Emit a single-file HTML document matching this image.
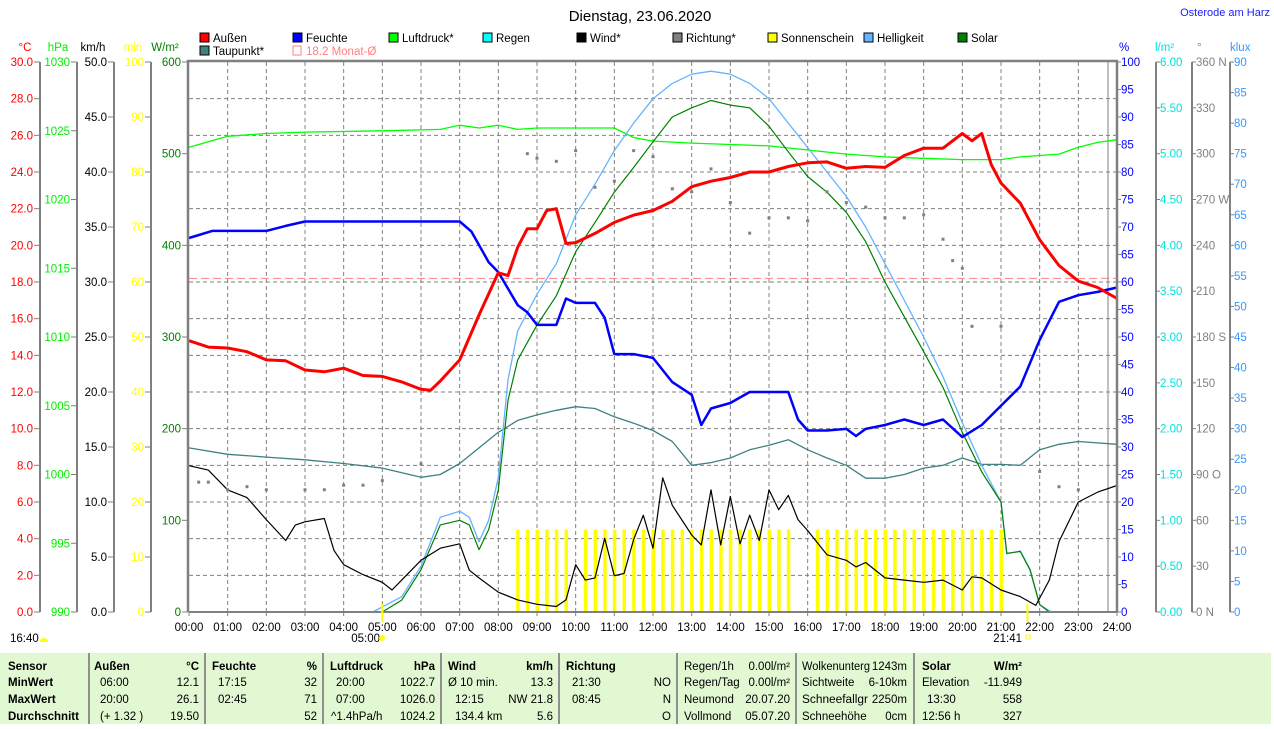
<!DOCTYPE html>
<html><head><meta charset="utf-8">
<style>
body{margin:0;background:#fff;width:1274px;height:724px;overflow:hidden;font-family:"Liberation Sans",Arial,sans-serif}
svg text{font-family:"Liberation Sans",Arial,sans-serif;font-size:11.5px}
</style></head>
<body>
<svg id="c" width="1274" height="724" viewBox="0 0 1274 724" xmlns="http://www.w3.org/2000/svg"></svg>
<script>
// ---- data ----
const tempT=[0,0.5,1,1.5,2,2.5,3,3.5,4,4.5,5,5.5,6,6.25,6.5,7,7.5,8,8.25,8.5,8.75,9,9.25,9.5,9.75,10,10.5,11,11.5,12,12.5,13,13.5,14,14.5,15,15.5,16,16.5,17,17.5,18,18.5,19,19.5,20,20.25,20.5,20.75,21,21.5,22,22.5,23,23.5,24];
const tempV=[14.8,14.45,14.4,14.2,13.75,13.7,13.2,13.1,13.3,12.9,12.85,12.55,12.15,12.1,12.6,13.75,16.2,18.5,18.35,19.9,20.9,20.9,21.9,22.0,20.1,20.15,20.65,21.25,21.65,21.9,22.4,23.2,23.5,23.7,24.0,24.0,24.3,24.5,24.55,24.2,24.3,24.25,24.9,25.3,25.3,26.1,25.7,26.1,24.4,23.4,22.3,20.3,18.9,18.05,17.7,17.1];
const humT=[0,0.6,2,2.5,3,7,7.3,7.75,8,8.5,8.75,9,9.5,9.75,10,10.5,10.75,11,11.5,12,12.5,13,13.25,13.5,14,14.5,15,15.5,15.75,16,16.5,17,17.25,17.5,18,18.5,19,19.5,20,20.5,21,21.5,22,22.5,23,23.5,24];
const humV=[68,69.3,69.3,70.2,71,71,69.2,63.6,61.8,55.8,54.5,52.2,52.2,57,56.2,56.2,53.5,46.9,46.9,46.2,41.8,39.5,34,37,38,40,40,40,35,33,33,33.3,32,33.3,34,35,34,35,31.8,34,37.5,41,49.5,56.4,57.6,58.2,59];
const presT=[0,1,2,3,5,6.5,7,7.5,8,8.5,9,10,11,11.5,12,13,14,15,16,17,18,19,20,21,21.5,22.5,23,23.5,24];
const presV=[1023.8,1024.6,1024.8,1024.9,1025.0,1025.1,1025.4,1025.2,1025.4,1025.1,1025.2,1025.2,1025.2,1024.5,1024.25,1024.1,1024.0,1023.9,1023.6,1023.3,1023.1,1023.0,1022.9,1022.9,1023.1,1023.3,1023.8,1024.15,1024.35];
const dewT=[0,1,2,3,4,5,6,6.5,7,7.5,8,8.5,9,9.5,10,10.5,11,11.5,12,12.5,13,13.5,14,14.5,15,15.5,16,16.5,17,17.5,18,18.5,19,19.5,20,20.5,21,21.5,22,22.5,23,24];
const dewV=[8.95,8.6,8.45,8.3,8.1,7.85,7.35,7.5,8.1,8.95,9.8,10.45,10.75,11.0,11.2,11.1,10.65,10.3,9.9,9.3,8.0,8.15,8.4,8.85,9.1,9.4,8.85,8.4,8.0,7.3,7.3,7.5,7.85,8.0,8.4,8.05,8.05,8.0,8.85,9.15,9.3,9.15];
const windT=[0,0.5,1,1.5,2,2.5,2.75,3,3.5,3.75,4,4.5,5,5.25,5.5,6,6.5,7,7.25,7.5,8,8.5,9,9.5,9.75,10,10.25,10.5,10.75,11,11.25,11.5,11.75,12,12.25,12.5,13,13.25,13.5,13.75,14,14.25,14.5,14.75,15,15.25,15.5,15.75,16,16.5,17,17.25,17.5,18,18.5,19,19.5,20,20.25,20.5,21,21.5,21.9,22.25,22.5,23,23.5,24];
const windV=[13.3,12.9,11.1,10.4,8.4,6.5,7.9,8.2,8.5,5.6,4.3,3.4,2.7,2.0,2.9,4.7,5.8,6.2,3.8,3.1,1.8,1.1,0.7,0.5,1.1,4.3,2.9,3.1,6.7,3.3,3.5,6.6,8.8,5.8,12.2,9.7,7.0,6.1,11.1,6.1,10.5,6.2,8.8,6.5,11.1,9.3,10.6,8.4,7.4,5.2,4.7,4.1,4.5,3.1,2.9,2.7,2.9,2.0,3.2,3.1,2.0,1.4,0.6,2.9,6.4,10.0,10.9,11.5];
const dirT=[0.25,0.5,1,1.5,2,3,3.5,4,4.5,5,6,8.75,9,9.5,10,10.5,11,11.5,12,12.5,13,13.5,14,14.5,15,15.5,16,16.5,17,17.5,18,18.5,19,19.5,19.75,20,20.25,21,22,22.5,23];
const dirV=[85,85,80,82,80,80,80,83,83,86,97,300,297,295,302,278,282,302,298,277,275,290,268,248,258,258,256,275,268,265,258,258,260,244,230,225,187,187,92,82,80];
const solT=[5,5.5,6,6.5,7,7.25,7.5,7.75,8,8.25,8.5,9,9.5,10,10.5,11,11.5,12,12.5,13,13.5,14,14.5,15,15.5,16,16.5,17,17.5,18,18.5,19,19.5,20,20.5,21,21.15,21.5,21.75,22,22.25];
const solV=[0,13,46,95,100,95,68,90,133,231,275,313,345,393,425,458,485,513,540,550,558,553,550,530,502,475,458,436,404,360,322,284,245,196,153,120,64,66,46,8,0];
const hellT=[4.75,5.5,6,6.5,7,7.25,7.5,7.75,8,8.25,8.5,9,9.5,10,10.5,11,11.5,12,12.5,13,13.5,14,14.5,15,15.5,16,16.5,17,17.5,18,18.5,19,19.5,20,20.5,21,21.15,21.5,21.75,22,22.3];
const hellV=[0,2.5,7.5,15.5,16.5,15.5,11.5,15,22,38,46,52,57,65,70,75.5,80,84,86.5,88,88.5,88,86.5,84,80,76,72,68,63,57,51,45,38.5,31,24,18,9.5,10,7,1.2,0];
const sunT=[8.5,8.75,9,9.25,9.5,9.75,10.25,10.5,10.75,11,11.25,11.5,11.75,12,12.25,12.5,12.75,13,13.25,13.5,13.75,14,14.25,14.5,14.75,15,15.25,15.5,16.25,16.5,16.75,17,17.25,17.5,17.75,18,18.25,18.5,18.75,19,19.25,19.5,19.75,20,20.25,20.5,20.75,21];
const sunV=sunT.map(()=>15);
const leftAxes=[
 {unit:"°C",color:"#ff0000",x:40,min:0,max:30,step:2,dec:1,ux:25},
 {unit:"hPa",color:"#00ee00",x:77,min:990,max:1030,step:5,dec:0,ux:58},
 {unit:"km/h",color:"#000000",x:114,min:0,max:50,step:5,dec:1,ux:93},
 {unit:"min",color:"#ffff00",x:151,min:0,max:100,step:10,dec:0,ux:133},
 {unit:"W/m²",color:"#008000",x:188,min:0,max:600,step:100,dec:0,ux:165}];
const dirLabels={360:"360 N",270:"270 W",180:"180 S",90:"90 O",0:"0 N"};

// ---- helpers ----
const NS="http://www.w3.org/2000/svg", svg=document.getElementById('c');
function el(tag,attrs,parent){const e=document.createElementNS(NS,tag);for(const k in attrs)e.setAttribute(k,attrs[k]);(parent||svg).appendChild(e);return e;}
function txt(x,y,s,attrs){const e=el('text',Object.assign({x:x,y:y},attrs||{}));e.textContent=s;return e;}
const X0=189,X1=1117,Y0=62,Y1=612;
const xT=t=>X0+(X1-X0)*t/24;
const yS=(v,min,max)=>Y1-(v-min)/(max-min)*(Y1-Y0);

// title
let t=txt(640,21,"Dienstag, 23.06.2020",{"text-anchor":"middle",style:"font-size:15px"});

t=txt(1270,16,"Osterode am Harz",{"text-anchor":"end",fill:"#2020ff",style:"font-size:11px"});


// grid
const grid=el('g',{stroke:"#808080","stroke-dasharray":"4,3","stroke-width":1});

for(let h=1;h<24;h++)el('line',{x1:xT(h),x2:xT(h),y1:Y0,y2:Y1},grid);
for(let v=2;v<30;v+=2)el('line',{x1:X0,x2:X1,y1:yS(v,0,30),y2:yS(v,0,30)},grid);
let ml=el('line',{x1:X0,x2:X1,y1:yS(18.2,0,30),y2:yS(18.2,0,30),stroke:"#ff8080","stroke-dasharray":"8,4"});

el('line',{x1:1108,x2:1108,y1:Y0,y2:Y1,stroke:"#808080"});

// left axes
leftAxes.forEach(a=>{
 const g=el('g',{});
 
 
 if(a.x!==188)el('line',{x1:a.x,x2:a.x,y1:Y0,y2:Y1,stroke:"#808080","stroke-width":2},g);
 g.appendChild(txt(a.ux,51,a.unit,{fill:a.color,"text-anchor":"middle"}));
 for(let v=a.min;v<=a.max+1e-9;v+=a.step){
  const y=yS(v,a.min,a.max);
  el('line',{x1:a.x-6,x2:a.x,y1:y,y2:y,stroke:"#808080"},g);
  g.appendChild(txt(a.x-7,y+4,v.toFixed(a.dec),{fill:a.color,"text-anchor":"end"}));
 }
});
// right axes
function rightAxis(name,unit,color,x,min,max,step,fmt,ux,line){
 const g=el('g',{});
 
 if(line)el('line',{x1:x,x2:x,y1:Y0,y2:Y1,stroke:"#808080","stroke-width":2},g);
 g.appendChild(txt(ux,51,unit,{fill:color}));
 for(let v=min;v<=max+1e-9;v+=step){const y=yS(v,min,max);
  el('line',{x1:x,x2:x+4,y1:y,y2:y,stroke:"#808080"},g);
  g.appendChild(txt(x+4,y+4,fmt(v),{fill:color}));}
}
rightAxis('y-axis-humidity','%','#0000ff',1117,0,100,5,v=>String(v),1119,false);
rightAxis('y-axis-rain','l/m²','#00e0e0',1156,0,6,0.5,v=>v.toFixed(2),1155,true);
rightAxis('y-axis-direction','°','#808080',1192,0,360,30,v=>dirLabels[v]||String(v),1197,true);
rightAxis('y-axis-brightness','klux','#3399ff',1230,0,90,5,v=>String(v),1230,true);

// x axis
const xg=el('g',{});
for(let h=0;h<=24;h++){const x=xT(h);el('line',{x1:x,x2:x,y1:Y1,y2:Y1+4,stroke:"#808080"},xg);
 xg.appendChild(txt(x,631,(h<10?"0":"")+h+":00",{"text-anchor":"middle"}));}

// sunshine bars
const sg=el('g',{fill:"#ffff00"});
sunT.forEach((tt,i)=>{const y=yS(sunV[i],0,100);const r=el('rect',{x:xT(tt)-1.5,y:y,width:3.5,height:Y1-y},sg);
 });

function line(T,V,min,max,color,w,name){const p=T.map((tt,i)=>xT(tt).toFixed(1)+","+yS(V[i],min,max).toFixed(1)).join(" ");
 const e=el('polyline',{points:p,fill:"none",stroke:color,"stroke-width":w,"stroke-linejoin":"round"});
 }
line(presT,presV,990,1030,"#00ff00",1.3,'pressure-line');
line(dewT,dewV,0,30,"#408080",1.3,'dewpoint-line');
line(hellT,hellV,0,90,"#66b3ff",1.3,'brightness-line');
line(solT,solV,0,600,"#008000",1.2,'solar-line');
line(windT,windV,0,50,"#000000",1.2,'wind-line');
const dg=el('g',{fill:"#808080"});
dirT.forEach((tt,i)=>{const d=el('rect',{x:xT(tt)-1.5,y:yS(dirV[i],0,360)-1.5,width:3,height:3},dg);
 });
line(humT,humV,0,100,"#0000ff",2.5,'humidity-line');
line(tempT,tempV,0,30,"#ff0000",3,'temperature-line');

// frame
el('polyline',{points:`${X0-1},${Y1} ${X0-1},${Y0-1} ${X1},${Y0-1} ${X1},${Y1}`,fill:"none",stroke:"#808080","stroke-width":2.5});
el('line',{x1:X0,x2:X1,y1:Y1,y2:Y1,stroke:"#808080","stroke-width":2});
// sunrise / sunset markers
el('line',{x1:xT(5),x2:xT(5),y1:604,y2:622,stroke:"#ffff00","stroke-width":2});
el('line',{x1:xT(21.683),x2:xT(21.683),y1:604,y2:622,stroke:"#ffff00","stroke-width":2});
t=txt(380,642,"05:00",{"text-anchor":"end"});
el('circle',{cx:382,cy:638,r:3,fill:"#ffff00"});
t=txt(1022,642,"21:41",{"text-anchor":"end"});
el('rect',{x:1026,y:635,width:4,height:4,fill:"none",stroke:"#ffff00"});
t=txt(10,642,"16:40");
el('path',{d:"M40,642 a4,4 0 0 1 8,0 z",fill:"#ffff00"});

// legend
const leg=[["Außen","#ff0000",200,42],["Feuchte","#0000ff",293,42],["Luftdruck*","#00ff00",389,42],["Regen","#00ffff",483,42],["Wind*","#000000",577,42],["Richtung*","#808080",673,42],["Sonnenschein","#ffff00",768,42],["Helligkeit","#66b3ff",864,42],["Solar","#008000",958,42],["Taupunkt*","#408080",200,55]];
leg.forEach(l=>{const g=el('g',{});
 el('rect',{x:l[2],y:l[3]-9,width:9,height:9,fill:l[1],stroke:"#000"},g);
 g.appendChild(txt(l[2]+13,l[3],l[0]));});
const mg=el('g',{});
el('rect',{x:293,y:46,width:8,height:9,fill:"none",stroke:"#ff8080"},mg);
mg.appendChild(txt(306,55,"18.2 Monat-Ø",{fill:"#ff8080"}));
</script>
<div style="position:absolute;left:0;top:653px;width:1271px;height:71px;background:#e2f8d2;">
<svg width="1271" height="71" style="position:absolute;left:0;top:0">
<g stroke="#909090" stroke-width="2"><line x1="89" y1="0" x2="89" y2="71"/><line x1="205" y1="0" x2="205" y2="71"/><line x1="323" y1="0" x2="323" y2="71"/><line x1="441" y1="0" x2="441" y2="71"/><line x1="559" y1="0" x2="559" y2="71"/><line x1="677" y1="0" x2="677" y2="71"/><line x1="796" y1="0" x2="796" y2="71"/><line x1="914" y1="0" x2="914" y2="71"/></g>
<g style="font-size:11.5px">
<g font-weight="bold"><text x="8" y="17">Sensor</text><text x="8" y="33">MinWert</text><text x="8" y="50">MaxWert</text><text x="8" y="67">Durchschnitt</text>
<text x="94" y="17">Außen</text><text x="199" y="17" text-anchor="end">°C</text>
<text x="212" y="17">Feuchte</text><text x="317" y="17" text-anchor="end">%</text>
<text x="330" y="17">Luftdruck</text><text x="435" y="17" text-anchor="end">hPa</text>
<text x="448" y="17">Wind</text><text x="553" y="17" text-anchor="end">km/h</text>
<text x="566" y="17">Richtung</text>
<text x="922" y="17">Solar</text><text x="1022" y="17" text-anchor="end">W/m²</text></g>
<text x="100" y="33">06:00</text><text x="199" y="33" text-anchor="end">12.1</text>
<text x="100" y="50">20:00</text><text x="199" y="50" text-anchor="end">26.1</text>
<text x="100" y="67">(+ 1.32 )</text><text x="199" y="67" text-anchor="end">19.50</text>
<text x="218" y="33">17:15</text><text x="317" y="33" text-anchor="end">32</text>
<text x="218" y="50">02:45</text><text x="317" y="50" text-anchor="end">71</text>
<text x="317" y="67" text-anchor="end">52</text>
<text x="336" y="33">20:00</text><text x="435" y="33" text-anchor="end">1022.7</text>
<text x="336" y="50">07:00</text><text x="435" y="50" text-anchor="end">1026.0</text>
<text x="331" y="67">^1.4hPa/h</text><text x="435" y="67" text-anchor="end">1024.2</text>
<text x="448" y="33">Ø 10 min.</text><text x="553" y="33" text-anchor="end">13.3</text>
<text x="455" y="50">12:15</text><text x="553" y="50" text-anchor="end">NW 21.8</text>
<text x="455" y="67">134.4 km</text><text x="553" y="67" text-anchor="end">5.6</text>
<text x="572" y="33">21:30</text><text x="671" y="33" text-anchor="end">NO</text>
<text x="572" y="50">08:45</text><text x="671" y="50" text-anchor="end">N</text>
<text x="671" y="67" text-anchor="end">O</text>
<text x="684" y="17">Regen/1h</text><text x="790" y="17" text-anchor="end">0.00l/m²</text>
<text x="684" y="33">Regen/Tag</text><text x="790" y="33" text-anchor="end">0.00l/m²</text>
<text x="684" y="50">Neumond</text><text x="790" y="50" text-anchor="end">20.07.20</text>
<text x="684" y="67">Vollmond</text><text x="790" y="67" text-anchor="end">05.07.20</text>
<text x="802" y="17" textLength="68" lengthAdjust="spacingAndGlyphs">Wolkenunterg</text><text x="907" y="17" text-anchor="end">1243m</text>
<text x="802" y="33">Sichtweite</text><text x="907" y="33" text-anchor="end">6-10km</text>
<text x="802" y="50" textLength="66" lengthAdjust="spacingAndGlyphs">Schneefallgr</text><text x="907" y="50" text-anchor="end">2250m</text>
<text x="802" y="67">Schneehöhe</text><text x="907" y="67" text-anchor="end">0cm</text>
<text x="922" y="33">Elevation</text><text x="1022" y="33" text-anchor="end">-11.949</text>
<text x="927" y="50">13:30</text><text x="1022" y="50" text-anchor="end">558</text>
<text x="922" y="67">12:56 h</text><text x="1022" y="67" text-anchor="end">327</text>
</g></svg></div>
</body></html>
